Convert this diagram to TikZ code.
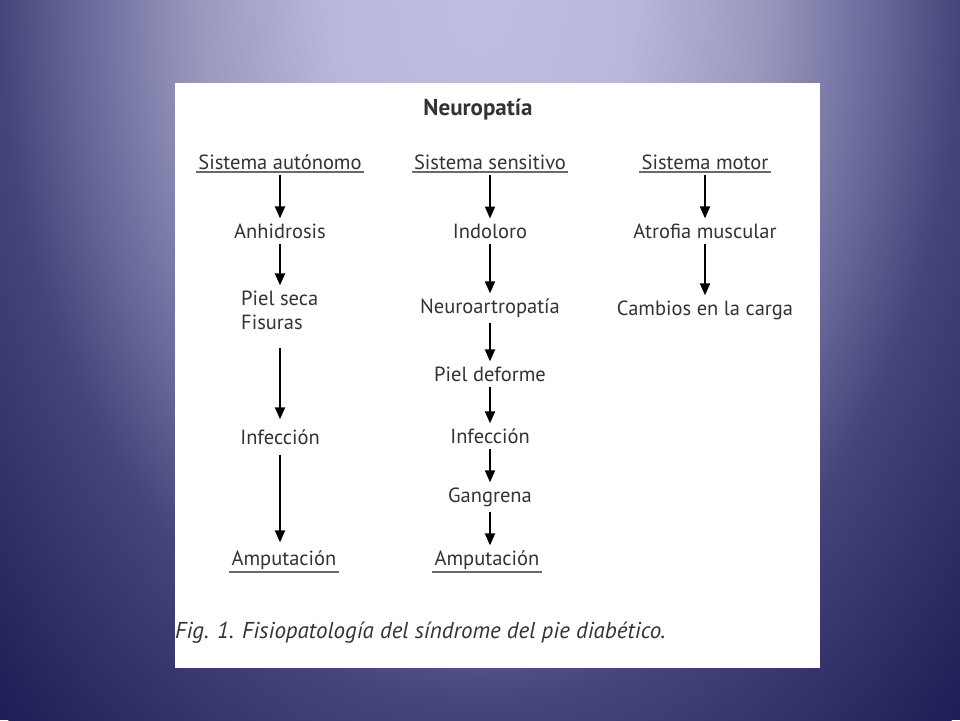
\documentclass[tikz,border=0pt]{standalone}
\usepackage{fontspec}
\setmainfont{PT Sans}
\usetikzlibrary{arrows.meta}

\definecolor{bgtop}{HTML}{BEBEE0}
\definecolor{bghigh}{HTML}{B8B8DC}
\definecolor{bgmid}{HTML}{9A9AC0}
\definecolor{bglow}{HTML}{7070A0}
\definecolor{bgdeep}{HTML}{45457A}
\definecolor{bgedge}{HTML}{1E1E58}
\definecolor{ink}{HTML}{333333}
\definecolor{rulegray}{HTML}{6A6A6A}

\pgfdeclareradialshading{slideglow}{\pgfpoint{0bp}{0bp}}{color(0bp)=(bgtop); color(5.5bp)=(bghigh); color(10.25bp)=(bgmid); color(14bp)=(bglow); color(17.6bp)=(bgdeep); color(25bp)=(bgedge); color(50bp)=(bgedge)}

\newcommand{\subrayar}[1]{
	\draw[rulegray, line width=2pt] (#1.south west) -- (#1.south east);
}

\begin{document}
\begin{tikzpicture}[x=1pt, y=-1pt,
	lbl/.style={text=ink, inner sep=2pt, font=\fontsize{20.5}{24}\selectfont},
	flow/.style={line width=2pt, -{Triangle[length=12pt,width=10pt]}, shorten <=3pt, shorten >=3pt}]

% slide background
\useasboundingbox (0,0) rectangle (960,720);
\clip (0,0) rectangle (960,720);
\fill[bgedge] (0,0) rectangle (960,720);
\shade[shading=slideglow] (480,0) ellipse (680 and 1000);
\fill[white] (175,83) rectangle (820,668);

\pgfmathsetmacro{\colA}{280}
\pgfmathsetmacro{\colB}{490}
\pgfmathsetmacro{\colC}{705}

\node[lbl, font=\fontsize{23}{26}\selectfont\bfseries] (neuro) at (478,110) {Neuropatía};

% headers
\node[lbl] (aut) at (\colA,162) {Sistema autónomo};
\node[lbl] (sen) at (\colB,162) {Sistema sensitivo};
\node[lbl] (mot) at (\colC,162) {Sistema motor};
\subrayar{aut}
\subrayar{sen}
\subrayar{mot}

% autonomo
\node[lbl] (anh) at (\colA,231) {Anhidrosis};
\node[lbl, anchor=west, align=left, font=\fontsize{20.5}{24}\selectfont] (piel) at (239,310) {Piel seca\\Fisuras};
\node[lbl] (infA) at (\colA,437) {Infección};
\node[lbl] (ampA) at (284,560) {Amputación};
\subrayar{ampA}

% sensitivo
\node[lbl] (ind) at (\colB,231) {Indoloro};
\node[lbl] (art) at (\colB,308) {Neuroartropatía};
\node[lbl] (def) at (\colB,374) {Piel deforme};
\node[lbl] (infB) at (\colB,436) {Infección};
\node[lbl] (gan) at (\colB,497) {Gangrena};
\node[lbl] (ampB) at (487,560) {Amputación};
\subrayar{ampB}

% motor
\node[lbl] (atr) at (\colC,231) {Atrofia muscular};
\node[lbl] (cam) at (\colC,310) {Cambios en la carga};

\draw[flow] (aut) -- (anh);
\draw[flow] (anh) -- (anh |- piel.north);
\draw[flow, shorten <=16pt, shorten >=8pt] (piel.south -| anh) -- (infA);
\draw[flow, shorten <=8pt, shorten >=6pt] (infA) -- (infA |- ampA.north);

\draw[flow] (sen) -- (ind);
\draw[flow] (ind) -- (art);
\draw[flow] (art) -- (def);
\draw[flow] (def) -- (infB);
\draw[flow] (infB) -- (gan);
\draw[flow] (gan) -- (gan |- ampB.north);

\draw[flow] (mot) -- (atr);
\draw[flow] (atr) -- (cam);

\node[lbl, anchor=west, font=\fontsize{23}{26}\selectfont\itshape] (cap) at (173,633) {Fig. 1. Fisiopatología del síndrome del pie diabético.};
\end{tikzpicture}
\end{document}
